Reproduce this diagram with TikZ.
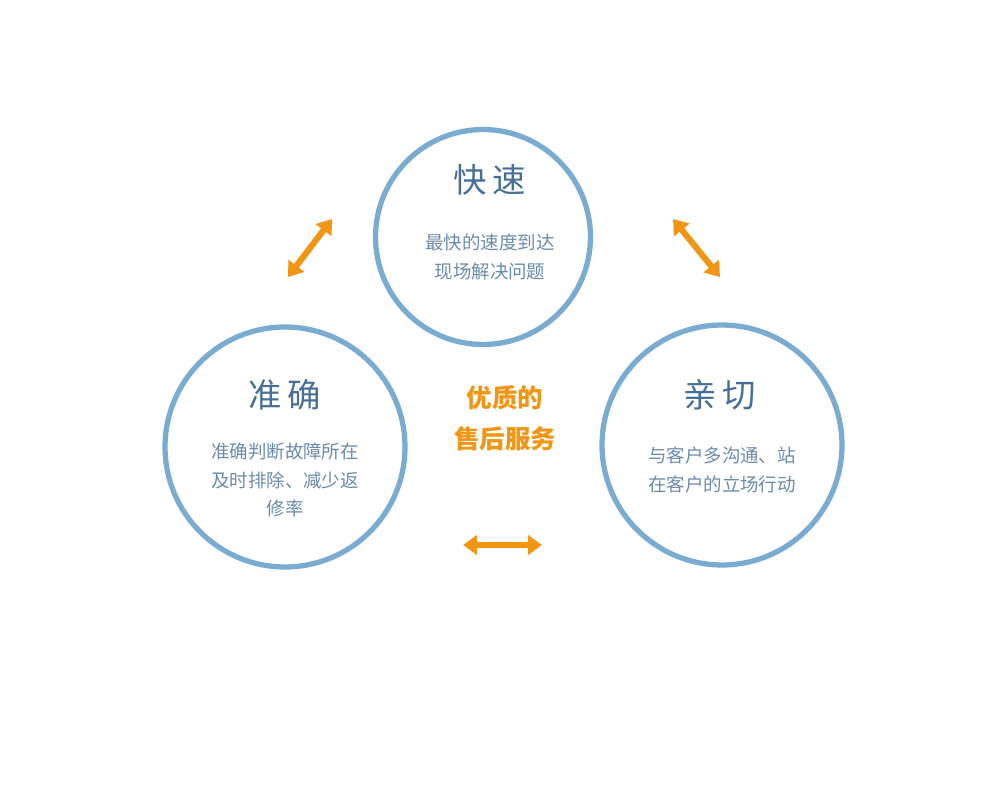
\documentclass[tikz,border=0pt]{standalone}
\usepackage{fontspec}
\setmainfont{Noto Sans CJK SC}
\usetikzlibrary{arrows.meta}
\definecolor{ringblue}{RGB}{122,172,210}
\definecolor{txtblue}{RGB}{70,110,150}
\definecolor{arrorange}{RGB}{240,150,20}
\begin{document}
\begin{tikzpicture}[x=0.02cm,y=-0.02cm]
  \tikzset{ring/.style={circle, draw=ringblue, line width=3pt, inner sep=0pt},
           title/.style={text=txtblue, font=\fontsize{19}{22}\selectfont},
           body/.style={text=txtblue!80, font=\fontsize{10.5}{16}\selectfont, align=center},
           twoway/.style={{Triangle[length=8pt,width=11pt]}-{Triangle[length=8pt,width=11pt]}, draw=arrorange, line width=3.5pt}}
  \useasboundingbox (0,0) rectangle (1000,790);
  % circles
  \node (fast) [ring, minimum size=4.3cm] at (483,237) {};
  \node (exact) [ring, minimum size=4.8cm] at (285,447) {};
  \node (kind) [ring, minimum size=4.8cm] at (722,445) {};
  % texts
  \node (fastT) [title] at (490,180) {快\,速};
  \node (fastB) [body] at (490,257) {最快的速度到达\\现场解决问题};
  \node (exactT) [title] at (285,395) {准\,确};
  \node (exactB) [body] at (285,480) {准确判断故障所在\\及时排除、减少返\\修率};
  \node (kindT) [title] at (720,395) {亲\,切};
  \node (kindB) [body] at (722,470) {与客户多沟通、站\\在客户的立场行动};
  \node (core) [text=arrorange, font=\fontsize{14.5}{23}\selectfont\bfseries, align=center] at (505,418) {优质的\\售后服务};
  % arrows
  \coordinate (a1) at (288,277); \coordinate (a2) at (332,219);
  \coordinate (b1) at (673,219); \coordinate (b2) at (720,277);
  \coordinate (c1) at (463,545); \coordinate (c2) at (542,545);
  \draw [twoway] (a1) -- (a2);
  \draw [twoway] (b1) -- (b2);
  \draw [twoway] (c1) -- (c2);
\end{tikzpicture}
\end{document}
